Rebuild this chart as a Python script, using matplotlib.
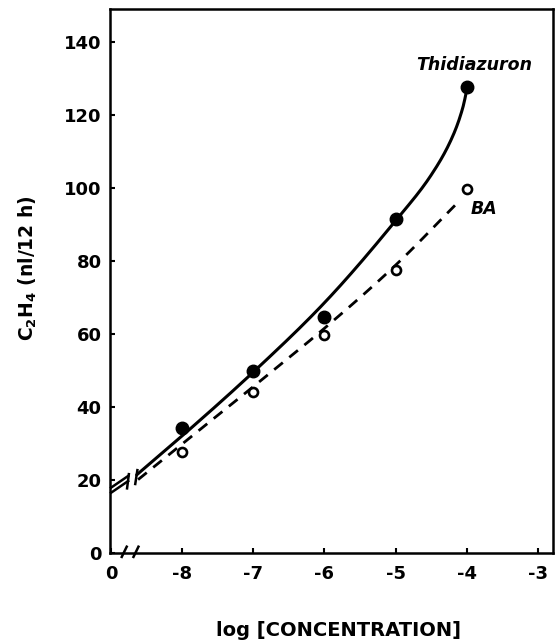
import numpy as np
import matplotlib
matplotlib.use("Agg")
import matplotlib.pyplot as plt

plt.rcParams['font.family'] = ['DejaVu Sans']
plt.rcParams['mathtext.default'] = 'bf'
plt.rcParams['lines.scale_dashes'] = False

# ---- data (x as tick index: 0 -> "0", 1 -> -8, ..., 6 -> -3) ----
x_ticklabels = ["0", "-8", "-7", "-6", "-5", "-4", "-3"]
log_conc = [-8, -7, -6, -5, -4]
thidiazuron = [34.1, 49.8, 64.7, 91.4, 127.8]
ba = [27.6, 44.0, 59.7, 77.5, 99.7]

# hand-drawn fitted curves (position index, value)
tdz_curve_x = [0.36, 1.00, 2.00, 3.00, 4.00, 4.50, 4.80, 4.95, 5.01]
tdz_curve_y = [21.3, 32.0, 49.5, 68.5, 91.0, 103.5, 114.0, 122.3, 127.7]
ba_curve_x = [0.38, 1.00, 2.00, 3.00, 4.00, 4.89]
ba_curve_y = [20.0, 29.8, 45.5, 61.5, 78.8, 96.3]

# extrapolated stubs to the y axis (broken)
stub_x = [0.0, 0.24]
stub_upper = [17.8, 21.0]
stub_lower = [16.4, 19.6]


def to_pos(v):
    return np.asarray(v, float) + 9.0


def pchip(x, y, xn):
    x = np.asarray(x, float); y = np.asarray(y, float)
    h = np.diff(x); d = np.diff(y) / h
    m = np.zeros_like(y)
    m[0], m[-1] = d[0], d[-1]
    for k in range(1, len(x) - 1):
        if d[k - 1] * d[k] <= 0:
            m[k] = 0
        else:
            w1 = 2 * h[k] + h[k - 1]
            w2 = h[k] + 2 * h[k - 1]
            m[k] = (w1 + w2) / (w1 / d[k - 1] + w2 / d[k])
    idx = np.clip(np.searchsorted(x, xn) - 1, 0, len(x) - 2)
    t = (xn - x[idx]) / h[idx]
    h00 = 2 * t**3 - 3 * t**2 + 1
    h10 = t**3 - 2 * t**2 + t
    h01 = -2 * t**3 + 3 * t**2
    h11 = t**3 - t**2
    return h00 * y[idx] + h10 * h[idx] * m[idx] + h01 * y[idx + 1] + h11 * h[idx] * m[idx + 1]


fig = plt.figure(figsize=(5.57, 6.43), dpi=100)
ax = fig.add_axes([0.1975, 0.1407, 0.796, 0.8448])

# curves
xs = np.linspace(tdz_curve_x[0], tdz_curve_x[-1], 400)
ax.plot(xs, pchip(tdz_curve_x, tdz_curve_y, xs), color='black', lw=2.2, solid_capstyle='round')
xb = np.linspace(ba_curve_x[0], ba_curve_x[-1], 400)
ax.plot(xb, pchip(ba_curve_x, ba_curve_y, xb), color='black', lw=2.0, dashes=(8, 6))

# broken stubs near the y axis
ax.plot(stub_x, stub_upper, color='black', lw=1.8, clip_on=False)
ax.plot(stub_x, stub_lower, color='black', lw=1.8, clip_on=False)
ax.plot([0.225, 0.25], [17.6, 21.5], color='black', lw=1.8)
ax.plot([0.34, 0.37], [18.8, 22.6], color='black', lw=1.8)

# data points
px = to_pos(log_conc)
ax.plot(px, thidiazuron, 'o', color='black', ms=9, zorder=5)
ax.plot(px, ba, 'o', mfc='white', mec='black', mew=1.9, ms=6.5, zorder=5)

# x-axis break slashes
for cx in (0.185, 0.35):
    ax.plot([cx - 0.035, cx + 0.035], [-1.2, 1.6], color='black', lw=1.8, clip_on=False, zorder=6)

ax.text(5.11, 133.6, 'Thidiazuron', style='italic', fontweight='bold', fontsize=12.5,
        ha='center', va='center')
ax.text(5.24, 94.1, 'BA', style='italic', fontweight='bold', fontsize=12.5,
        ha='center', va='center')

ax.set_xlim(-0.015, 6.22)
ax.set_ylim(0, 149)
ax.set_xticks(range(len(x_ticklabels)))
ax.set_xticklabels(x_ticklabels)
ax.set_yticks(range(0, 141, 20))
for s in ax.spines.values():
    s.set_linewidth(1.8)
ax.tick_params(direction='in', length=3.5, width=1.5, labelsize=13)
ax.tick_params(axis='x', pad=9)
ax.tick_params(axis='y', pad=6)
for lab in ax.get_xticklabels() + ax.get_yticklabels():
    lab.set_fontweight('bold')

fig.text(28 / 557, 1 - 268 / 643, r'C$_2$H$_4$ (nl/12 h)', rotation=90, ha='center', va='center',
         fontsize=13.5, fontweight='bold')
fig.text(338 / 557, 1 - 631 / 643, 'log [CONCENTRATION]', ha='center', va='center',
         fontsize=14, fontweight='bold')

fig.savefig('out.png', dpi=100, facecolor='white')
